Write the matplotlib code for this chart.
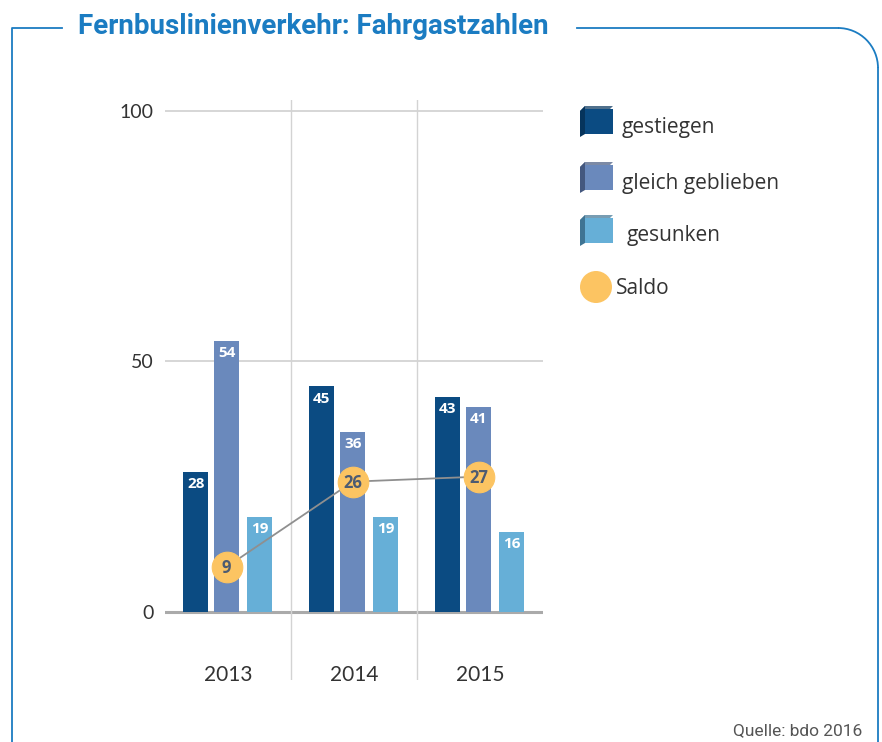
import matplotlib.pyplot as plt
from matplotlib.patches import Rectangle, Polygon, Circle, Arc

# Data
years = ["2013", "2014", "2015"]
gestiegen = [28, 45, 43]
gleich = [54, 36, 41]
gesunken = [19, 19, 16]
saldo = [9, 26, 27]
series_names = ["gestiegen", "gleich geblieben", "gesunken"]

c_dark = "#0b4b82"
c_mid = "#6a89bc"
c_light = "#66afd7"
c_saldo = "#fcc462"
c_blue = "#1b7cc2"
colors = [c_dark, c_mid, c_light]
side_colors = ["#06345c", "#44587f", "#3f7493"]

W, H = 882, 742
fig = plt.figure(figsize=(W / 100, H / 100), dpi=100)

# overlay in pixel coordinates for frame and legend
bg = fig.add_axes([0, 0, 1, 1], zorder=0)
bg.set_xlim(0, W)
bg.set_ylim(H, 0)
bg.axis("off")

# frame with rounded top-right corner
lc = c_blue
bg.plot([12, 12, 62], [H, 28, 28], color=lc, lw=1.3)
bg.plot([577, 838], [28, 28], color=lc, lw=1.3)
bg.add_patch(Arc((838, 68), 80, 80, theta1=270, theta2=360, color=lc, lw=1.3))
bg.plot([878, 878], [68, H], color=lc, lw=1.3)
bg.text(313, 26, "Fernbuslinienverkehr: Fahrgastzahlen", color=c_blue,
        fontsize=20, fontweight="bold", family="Roboto", ha="center", va="center")
bg.text(862, 731, "Quelle: bdo 2016", color="#555555", fontsize=12.5,
        family="Roboto", ha="right", va="center")

# legend (cube-like swatches)
leg_y = [122, 178, 231]
for name, col, sc, y in zip(series_names, colors, side_colors, leg_y):
    x0, s, d = 585, 28, 5
    bg.add_patch(Polygon([[x0 - d, y - s / 2 + d - 2], [x0, y - s / 2 - 2],
                          [x0, y + s / 2 - 2], [x0 - d, y + s / 2 + d - 2 - 2]],
                         closed=True, color=sc, lw=0))
    bg.add_patch(Polygon([[x0 - d, y - s / 2 + d - 2], [x0, y - s / 2 - 2],
                          [x0 + s, y - s / 2 - 2], [x0 + s - d, y - s / 2 + d - 2]],
                         closed=True, color=sc, alpha=0.7, lw=0))
    bg.add_patch(Rectangle((x0, y - s / 2 + d - 4), s, s - d + 2, color=col, lw=0))
    bg.text(622 if name != "gesunken" else 627, y + 5, name, fontsize=15,
            family="Open Sans", color="#333333", va="center")
bg.add_patch(Circle((596, 287), 16, color=c_saldo, lw=0))
bg.text(616, 288, "Saldo", fontsize=15, family="Open Sans", color="#333333",
        va="center")

# main chart
ax = fig.add_axes([165 / W, 1 - 680 / H, (543 - 165) / W, (680 - 100) / H],
                  zorder=1)
ax.patch.set_alpha(0)
ax.set_xlim(-0.5, 2.5)
ax.set_ylim(-13.6, 102.2)
for s in ax.spines.values():
    s.set_visible(False)

for v in [50, 100]:
    ax.axhline(v, color="#d3d3d3", lw=1.3, zorder=0)
ax.axhline(0, color="#aaaaaa", lw=2.2, zorder=0)
for v in [0.5, 1.5]:
    ax.axvline(v, color="#d3d3d3", lw=1, zorder=0)

ax.set_yticks([0, 50, 100])
ax.set_yticklabels(["0", "50", "100"], fontsize=14, family="Lato", color="#333333")
ax.tick_params(axis="y", length=0, pad=8)
ax.set_xticks([])

xs = list(range(len(years)))
offsets = [-0.257, -0.01, 0.25]
bw = 0.2
for vals, off, col in zip([gestiegen, gleich, gesunken], offsets, colors):
    pos = [x + off for x in xs]
    ax.bar(pos, vals, width=bw, color=col, edgecolor="#ffffff00", zorder=2)
    for p, v in zip(pos, vals):
        ax.text(p, v - 1.0, str(v), color="white", fontsize=11, fontweight="bold",
                family="Open Sans", ha="center", va="top", zorder=3)

sx = [x - 0.01 for x in xs]
ax.plot(sx, saldo, color="#8f8f8f", lw=1.3, zorder=4)
ax.plot(sx, saldo, "o", ms=22, color=c_saldo, mec=c_saldo, mew=0.8, zorder=5)
for x, v in zip(sx, saldo):
    ax.text(x, v - 0.3, str(v), color="#4d5b72", fontsize=12, fontweight="bold",
            family="Open Sans", ha="center", va="center", zorder=6)

for x, y in zip(xs, years):
    ax.text(x, -12.6, y, fontsize=15, family="Lato", color="#333333",
            ha="center", va="center")

fig.savefig("out.png", dpi=100)
